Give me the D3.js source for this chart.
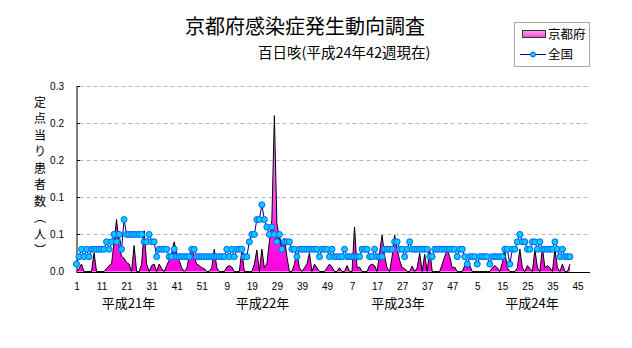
<!DOCTYPE html>
<html>
<head>
<meta charset="utf-8">
<script src="https://cdn.jsdelivr.net/npm/d3@7"></script>
<style>
  body { margin: 0; background: #fff; }
  svg { display: block; }
</style>
</head>
<body>
<svg id="chart" width="632" height="348"></svg>
<script>
// ---- data -------------------------------------------------------------
const titleText = "京都府感染症発生動向調査";
const subtitleText = "百日咳(平成24年42週現在)";
const yAxisTitle = "定点当り患者数（人）";
const seriesNames = ["京都府", "全国"];
const yearLabels = ["平成21年", "平成22年", "平成23年", "平成24年"];
const weekCounts = [52, 52, 52, 50];

// 京都府 (per-sentinel weekly counts)
const kyotoH21 = [0, 0.004, 0.01, 0, 0, 0, 0, 0.025, 0, 0, 0, 0, 0.004, 0.008, 0.01, 0.04, 0.07, 0.035, 0.02, 0.018,
  0.012, 0.01, 0, 0.035, 0, 0, 0.01, 0.055, 0.01, 0, 0.008, 0.01, 0, 0.01, 0.004, 0, 0.008, 0.015, 0.025, 0.04,
  0.025, 0.015, 0.005, 0, 0.004, 0.02, 0.03, 0.02, 0.01, 0.008, 0.005, 0.004];
const kyotoH22 = [0, 0, 0.005, 0.03, 0.005, 0, 0, 0, 0.006, 0.008, 0.006, 0, 0, 0, 0.028, 0, 0, 0, 0, 0.01,
  0.029, 0, 0.03, 0.005, 0.01, 0.04, 0.07, 0.21, 0.065, 0.045, 0.037, 0.045, 0.02, 0, 0, 0.01, 0.025, 0.005, 0, 0.005,
  0.01, 0.025, 0, 0.01, 0.005, 0, 0, 0, 0.005, 0.01, 0.006, 0];
const kyotoH23 = [0, 0.005, 0, 0, 0.008, 0, 0, 0.06, 0.005, 0.006, 0, 0, 0, 0.008, 0.01, 0.008, 0, 0.025, 0.049, 0.02,
  0.005, 0, 0.02, 0.049, 0.03, 0.015, 0.005, 0.004, 0, 0, 0.007, 0, 0.005, 0.025, 0, 0.023, 0, 0.03, 0, 0,
  0, 0, 0.01, 0.02, 0.029, 0.02, 0.005, 0.006, 0, 0, 0, 0.008];
const kyotoH24 = [0.005, 0.008, 0, 0, 0, 0, 0, 0, 0, 0, 0.005, 0.008, 0.005, 0, 0.012, 0.027, 0.005, 0, 0, 0,
  0.005, 0.03, 0.005, 0, 0.008, 0.004, 0, 0.03, 0.005, 0, 0.032, 0.005, 0.008, 0.005, 0, 0.03, 0.005, 0, 0.01, 0,
  0, 0.01];

// 全国
const zenkokuH21 = [0.01, 0.02, 0.03, 0.02, 0.03, 0.02, 0.03, 0.03, 0.03, 0.03, 0.03, 0.03, 0.04, 0.03, 0.04, 0.05, 0.04, 0.05, 0.03, 0.07,
  0.05, 0.05, 0.05, 0.05, 0.05, 0.05, 0.05, 0.04, 0.04, 0.05, 0.04, 0.04, 0.02, 0.03, 0.03, 0.03, 0.03, 0.02, 0.02, 0.03,
  0.02, 0.02, 0.02, 0.02, 0.02, 0.02, 0.03, 0.03, 0.02, 0.02, 0.02, 0.02];
const zenkokuH22 = [0.02, 0.02, 0.02, 0.02, 0.02, 0.02, 0.02, 0.02, 0.03, 0.02, 0.03, 0.02, 0.03, 0.03, 0.03, 0.02, 0.02, 0.04, 0.05, 0.05,
  0.07, 0.07, 0.09, 0.07, 0.06, 0.05, 0.06, 0.05, 0.04, 0.05, 0.03, 0.04, 0.04, 0.04, 0.03, 0.03, 0.02, 0.03, 0.03, 0.03,
  0.03, 0.03, 0.03, 0.03, 0.03, 0.02, 0.03, 0.03, 0.03, 0.02, 0.03, 0.02];
const zenkokuH23 = [0.02, 0.02, 0.02, 0.03, 0.02, 0.02, 0.02, 0.02, 0.02, 0.02, 0.03, 0.03, 0.03, 0.02, 0.02, 0.03, 0.02, 0.02, 0.02, 0.03,
  0.03, 0.03, 0.03, 0.04, 0.04, 0.03, 0.03, 0.02, 0.03, 0.04, 0.03, 0.03, 0.03, 0.03, 0.03, 0.03, 0.03, 0.02, 0.02, 0.03,
  0.03, 0.03, 0.03, 0.03, 0.03, 0.03, 0.03, 0.03, 0.02, 0.03, 0.03, 0.02];
const zenkokuH24 = [0.01, 0.02, 0.02, 0.02, 0.01, 0.02, 0.02, 0.02, 0.02, 0.01, 0.02, 0.02, 0.02, 0.02, 0.02, 0.03, 0.03, 0.01, 0.03, 0.03,
  0.04, 0.05, 0.04, 0.04, 0.03, 0.03, 0.04, 0.04, 0.03, 0.04, 0.03, 0.03, 0.03, 0.03, 0.03, 0.04, 0.03, 0.02, 0.03, 0.02,
  0.02, 0.02];

const yTicks = [0, 0.05, 0.1, 0.15, 0.2, 0.25];
const yTickLabels = ["0.0", "0.1", "0.1", "0.2", "0.2", "0.3"];

// ---- build category table ---------------------------------------------
const kyotoByYear = [kyotoH21, kyotoH22, kyotoH23, kyotoH24];
const zenkokuByYear = [zenkokuH21, zenkokuH22, zenkokuH23, zenkokuH24];
const rows = [];
weekCounts.forEach((n, y) => {
  for (let w = 1; w <= n; w++) {
    rows.push({
      idx: rows.length,
      year: y,
      week: w,
      kyoto: kyotoByYear[y][w - 1],
      zenkoku: zenkokuByYear[y][w - 1]
    });
  }
});

// ---- layout -----------------------------------------------------------
const svg = d3.select("#chart");
const plot = { left: 76.5, right: 590, top: 86, bottom: 271.5 };

const x = d3.scalePoint()
  .domain(rows.map(d => d.idx))
  .range([plot.left, plot.right]);
const y = d3.scaleLinear()
  .domain([0, 0.25])
  .range([plot.bottom, plot.top]);

const jpFont = "'Noto Sans CJK JP', 'Noto Sans', sans-serif";
const numFont = "'Liberation Sans', Arial, sans-serif";

// gradient for the 京都府 area
const defs = svg.append("defs");
const grad = defs.append("linearGradient")
  .attr("id", "kyotoFill")
  .attr("gradientUnits", "userSpaceOnUse")
  .attr("x1", 0).attr("x2", 0)
  .attr("y1", y(0.25)).attr("y2", y(0));
grad.append("stop").attr("offset", "0%").attr("stop-color", "#ffb8ff");
grad.append("stop").attr("offset", "100%").attr("stop-color", "#ff00e0");

const legGrad = defs.append("linearGradient")
  .attr("id", "legendFill")
  .attr("x1", 0).attr("x2", 0).attr("y1", 0).attr("y2", 1);
legGrad.append("stop").attr("offset", "0%").attr("stop-color", "#ff9cf0");
legGrad.append("stop").attr("offset", "100%").attr("stop-color", "#ff4ad8");

// ---- titles -----------------------------------------------------------
svg.append("text")
  .attr("x", 185).attr("y", 34)
  .attr("font-family", jpFont).attr("font-size", 20)
  .attr("fill", "#000")
  .text(titleText);

svg.append("text")
  .attr("x", 258).attr("y", 58)
  .attr("font-family", jpFont).attr("font-size", 14.5)
  .attr("fill", "#000")
  .text(subtitleText);

// ---- gridlines --------------------------------------------------------
svg.append("g")
  .selectAll("line")
  .data(yTicks.filter(t => t > 0))
  .join("line")
  .attr("x1", plot.left + 3).attr("x2", plot.right)
  .attr("y1", d => Math.round(y(d)) + 0.5).attr("y2", d => Math.round(y(d)) + 0.5)
  .attr("stroke", "#b8b8b8")
  .attr("stroke-dasharray", "4,3");

// ---- 京都府 area ------------------------------------------------------
const kyotoRows = rows.filter(d => d.kyoto != null);
const area = d3.area()
  .x(d => x(d.idx))
  .y0(y(0))
  .y1(d => y(d.kyoto));
const topLine = d3.line()
  .x(d => x(d.idx))
  .y(d => y(d.kyoto));

svg.append("path")
  .datum(kyotoRows)
  .attr("d", area)
  .attr("fill", "url(#kyotoFill)");
svg.append("path")
  .datum(kyotoRows)
  .attr("d", topLine)
  .attr("fill", "none")
  .attr("stroke", "#000")
  .attr("stroke-width", 1);

// ---- axes -------------------------------------------------------------
const yAxis = d3.axisLeft(y)
  .tickValues(yTicks)
  .tickSize(0)
  .tickPadding(13)
  .tickFormat((d, i) => yTickLabels[i]);
const gy = svg.append("g")
  .attr("transform", `translate(${plot.left + 0.5},0)`)
  .call(yAxis);
gy.select(".domain").remove();
gy.selectAll("text")
  .attr("font-family", numFont).attr("font-size", 10).attr("fill", "#000");

// inward tick marks on the value axis
svg.append("g")
  .selectAll("line")
  .data(yTicks)
  .join("line")
  .attr("x1", plot.left + 0.5).attr("x2", plot.left + 3.5)
  .attr("y1", d => Math.round(y(d)) + 0.5).attr("y2", d => Math.round(y(d)) + 0.5)
  .attr("stroke", "#000");

svg.append("line")
  .attr("x1", plot.left + 0.5).attr("x2", plot.left + 0.5)
  .attr("y1", plot.top).attr("y2", plot.bottom)
  .attr("stroke", "#000");
svg.append("line")
  .attr("x1", plot.left).attr("x2", plot.right)
  .attr("y1", Math.round(plot.bottom) + 0.5).attr("y2", Math.round(plot.bottom) + 0.5)
  .attr("stroke", "#000");

const labelRows = rows.filter(d => d.idx % 10 === 0);
const xAxis = d3.axisBottom(x)
  .tickValues(labelRows.map(d => d.idx))
  .tickSize(0)
  .tickPadding(0)
  .tickFormat(i => rows[i].week);
const gx = svg.append("g")
  .attr("transform", `translate(0,${plot.bottom})`)
  .call(xAxis);
gx.select(".domain").remove();
gx.selectAll("text")
  .attr("font-family", numFont).attr("font-size", 10).attr("fill", "#000")
  .attr("dy", 0).attr("y", 18.5);

// year labels under the week numbers
const yearCenters = [128.5, 262.5, 398, 532];
svg.append("g")
  .selectAll("text")
  .data(yearLabels)
  .join("text")
  .attr("x", (d, i) => yearCenters[i])
  .attr("y", 308)
  .attr("text-anchor", "middle")
  .attr("font-family", jpFont).attr("font-size", 13)
  .attr("fill", "#000")
  .text(d => d);

// vertical y-axis title
svg.append("text")
  .attr("x", 40).attr("y", 96)
  .attr("font-family", jpFont).attr("font-size", 12)
  .attr("fill", "#000")
  .style("writing-mode", "vertical-rl")
  .style("letter-spacing", "4.5px")
  .text(yAxisTitle);

// ---- 全国 line with markers ------------------------------------------
const zRows = rows.filter(d => d.zenkoku != null);
const line = d3.line()
  .x(d => x(d.idx))
  .y(d => y(d.zenkoku));
svg.append("path")
  .datum(zRows)
  .attr("d", line)
  .attr("fill", "none")
  .attr("stroke", "#000080")
  .attr("stroke-width", 1);
svg.append("g")
  .selectAll("circle")
  .data(zRows)
  .join("circle")
  .attr("cx", d => x(d.idx))
  .attr("cy", d => y(d.zenkoku))
  .attr("r", 3)
  .attr("fill", "#00ccff")
  .attr("stroke", "#0066ff")
  .attr("stroke-width", 1);

// ---- legend -----------------------------------------------------------
const leg = svg.append("g");
leg.append("rect")
  .attr("x", 514.5).attr("y", 22.5).attr("width", 75).attr("height", 44)
  .attr("fill", "#fff").attr("stroke", "#a8a8a8");
leg.append("rect")
  .attr("x", 522.5).attr("y", 30.5).attr("width", 23).attr("height", 7)
  .attr("fill", "url(#legendFill)").attr("stroke", "#333");
leg.append("line")
  .attr("x1", 520).attr("x2", 546).attr("y1", 54.5).attr("y2", 54.5)
  .attr("stroke", "#000080");
leg.append("circle")
  .attr("cx", 533).attr("cy", 54.5).attr("r", 2.5)
  .attr("fill", "#00ccff").attr("stroke", "#0066ff");
leg.selectAll("text.leg")
  .data(seriesNames)
  .join("text")
  .attr("class", "leg")
  .attr("x", 548)
  .attr("y", (d, i) => [38.5, 59][i])
  .attr("font-family", jpFont).attr("font-size", 12.5)
  .attr("fill", "#000")
  .text(d => d);
</script>
</body>
</html>
